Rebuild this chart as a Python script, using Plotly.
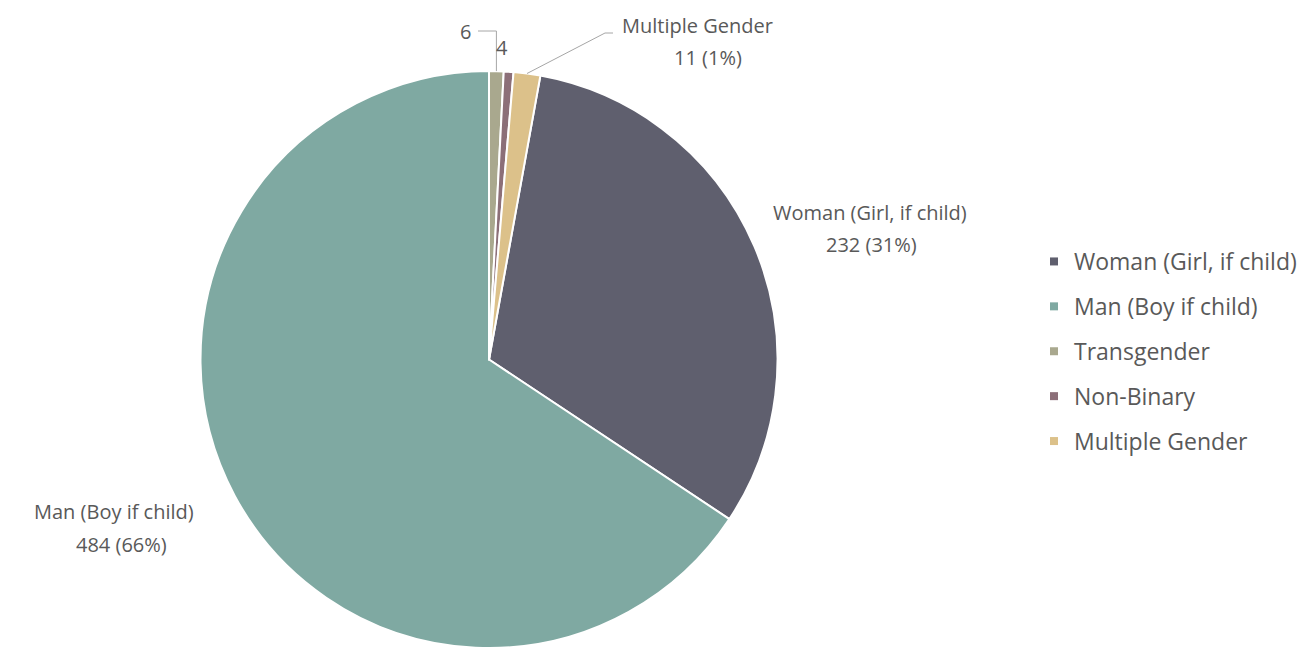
import math

import plotly.graph_objects as go

labels = ["Woman (Girl, if child)", "Man (Boy if child)", "Transgender", "Non-Binary", "Multiple Gender"]
counts = [232, 484, 6, 4, 11]
colors = ["#5F5F6E", "#7FA9A2", "#A9A88E", "#8C6F78", "#DCC18A"]

TEXT = "#595959"
FONT = "Open Sans"

# page is 1305x648 but the html body has an 8px margin
SW, SH, OFF = 1305, 648, 8
W, H = SW - OFF, SH - OFF

total = sum(counts)
# first slice (Woman) starts where the three small slices end, clockwise from 12 o'clock
rotation = sum(counts[2:]) / total * 360

# pie geometry in screen pixels
cx, r = 489, 288.5
cy = SH - r


def px(sx):
    return (sx - OFF) / W


def py(sy):
    return (SH - sy) / H


def mid_point(i, rad):
    start = rotation + sum(counts[:i]) / total * 360
    ang = math.radians(start + counts[i] / total * 360 / 2)
    return cx + rad * math.sin(ang), cy - rad * math.cos(ang)


fig = go.Figure()
fig.add_trace(
    go.Pie(
        labels=labels,
        values=counts,
        sort=False,
        direction="clockwise",
        rotation=rotation,
        marker=dict(colors=colors, line=dict(color="white", width=2)),
        textinfo="none",
        showlegend=False,
        domain=dict(x=[px(cx - r), px(cx + r)], y=[0, py(cy - r)]),
    )
)

# legend entries as small square markers
for name, col in zip(labels, colors):
    fig.add_trace(
        go.Scatter(
            x=[None], y=[None], mode="markers", name=name, legendgroup=name,
            marker=dict(symbol="square", size=8, color=col),
        )
    )


def pct(v):
    return f"{v} ({round(v / total * 100)}%)"


notes = [
    (labels[0], 870, 212),
    (pct(counts[0]), 871, 244),
    (labels[1], 114, 511),
    (pct(counts[1]), 121, 544),
    (labels[4], 697, 25),
    (pct(counts[4]), 708, 57),
    (str(counts[2]), 465, 31),
    (str(counts[3]), 502, 47),
]
for txt, x, y in notes:
    fig.add_annotation(
        x=x, y=y, xref="x", yref="y", text=txt, showarrow=False,
        font=dict(family=FONT, size=20, color=TEXT),
    )

# leader lines for the small slices
x6, y6 = mid_point(2, r)
fig.add_shape(type="path", xref="x", yref="y",
              path=f"M{x6:.1f},{y6:.1f} L{x6:.1f},31 L478,31",
              line=dict(color="#A6A6A6", width=1))
xm, ym = mid_point(4, r)
fig.add_shape(type="path", xref="x", yref="y",
              path=f"M{xm:.1f},{ym:.1f} L605,33 L613,33",
              line=dict(color="#A6A6A6", width=1))

fig.update_layout(
    width=W, height=H,
    margin=dict(l=0, r=0, t=0, b=0),
    paper_bgcolor="white", plot_bgcolor="white",
    # axes in screen pixels so annotations/shapes can be placed directly
    xaxis=dict(range=[OFF, SW], visible=False, fixedrange=True),
    yaxis=dict(range=[SH, OFF], visible=False, fixedrange=True),
    legend=dict(
        x=px(1034), y=py(240), xanchor="left", yanchor="top",
        font=dict(family=FONT, size=23, color=TEXT),
        tracegroupgap=12, itemwidth=30,
    ),
)

fig.write_html("out.html")
